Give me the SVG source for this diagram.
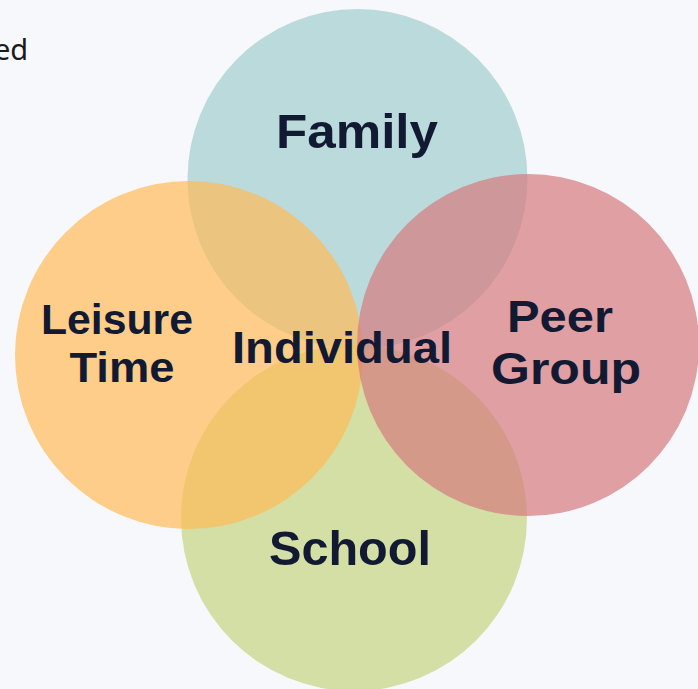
<svg xmlns="http://www.w3.org/2000/svg" width="698" height="689" viewBox="0 0 698 689">
  <style>
    .c { opacity: 0.7; }
    .lbl { font-family: "Liberation Sans", Arial, sans-serif; font-weight: 700; fill: #121A33; text-anchor: middle; }
    .stray { font-family: "Noto Sans", "DejaVu Sans", sans-serif; font-weight: 400; fill: #1a1a1a; font-size: 29px; }
  </style>
  <rect x="0" y="0" width="698" height="689" fill="#F7F8FC"/>
  <text class="stray" x="-6" y="60">ed</text>
  <g id="family">
    <circle class="c" cx="357.5" cy="179" r="170" fill="#A1CDCE"/>
  </g>
  <g id="school">
    <circle class="c" cx="354" cy="518" r="173" fill="#C5D480"/>
  </g>
  <g id="leisure">
    <circle class="c" cx="189" cy="355" r="174" fill="#FFBB59"/>
  </g>
  <g id="peer">
    <circle class="c" cx="528" cy="345" r="171" fill="#D57A7E"/>
  </g>
  <g id="labels">
    <text class="lbl" x="357" y="148" font-size="48" textLength="162" lengthAdjust="spacingAndGlyphs">Family</text>
    <text class="lbl" x="342" y="363" font-size="45" textLength="220" lengthAdjust="spacingAndGlyphs">Individual</text>
    <text class="lbl" x="117" y="334" font-size="42" textLength="152" lengthAdjust="spacingAndGlyphs">Leisure</text>
    <text class="lbl" x="122" y="382" font-size="42" textLength="105" lengthAdjust="spacingAndGlyphs">Time</text>
    <text class="lbl" x="560" y="332" font-size="45" textLength="106" lengthAdjust="spacingAndGlyphs">Peer</text>
    <text class="lbl" x="566" y="384" font-size="45" textLength="150" lengthAdjust="spacingAndGlyphs">Group</text>
    <text class="lbl" x="350" y="565" font-size="48" textLength="162" lengthAdjust="spacingAndGlyphs">School</text>
  </g>
</svg>
